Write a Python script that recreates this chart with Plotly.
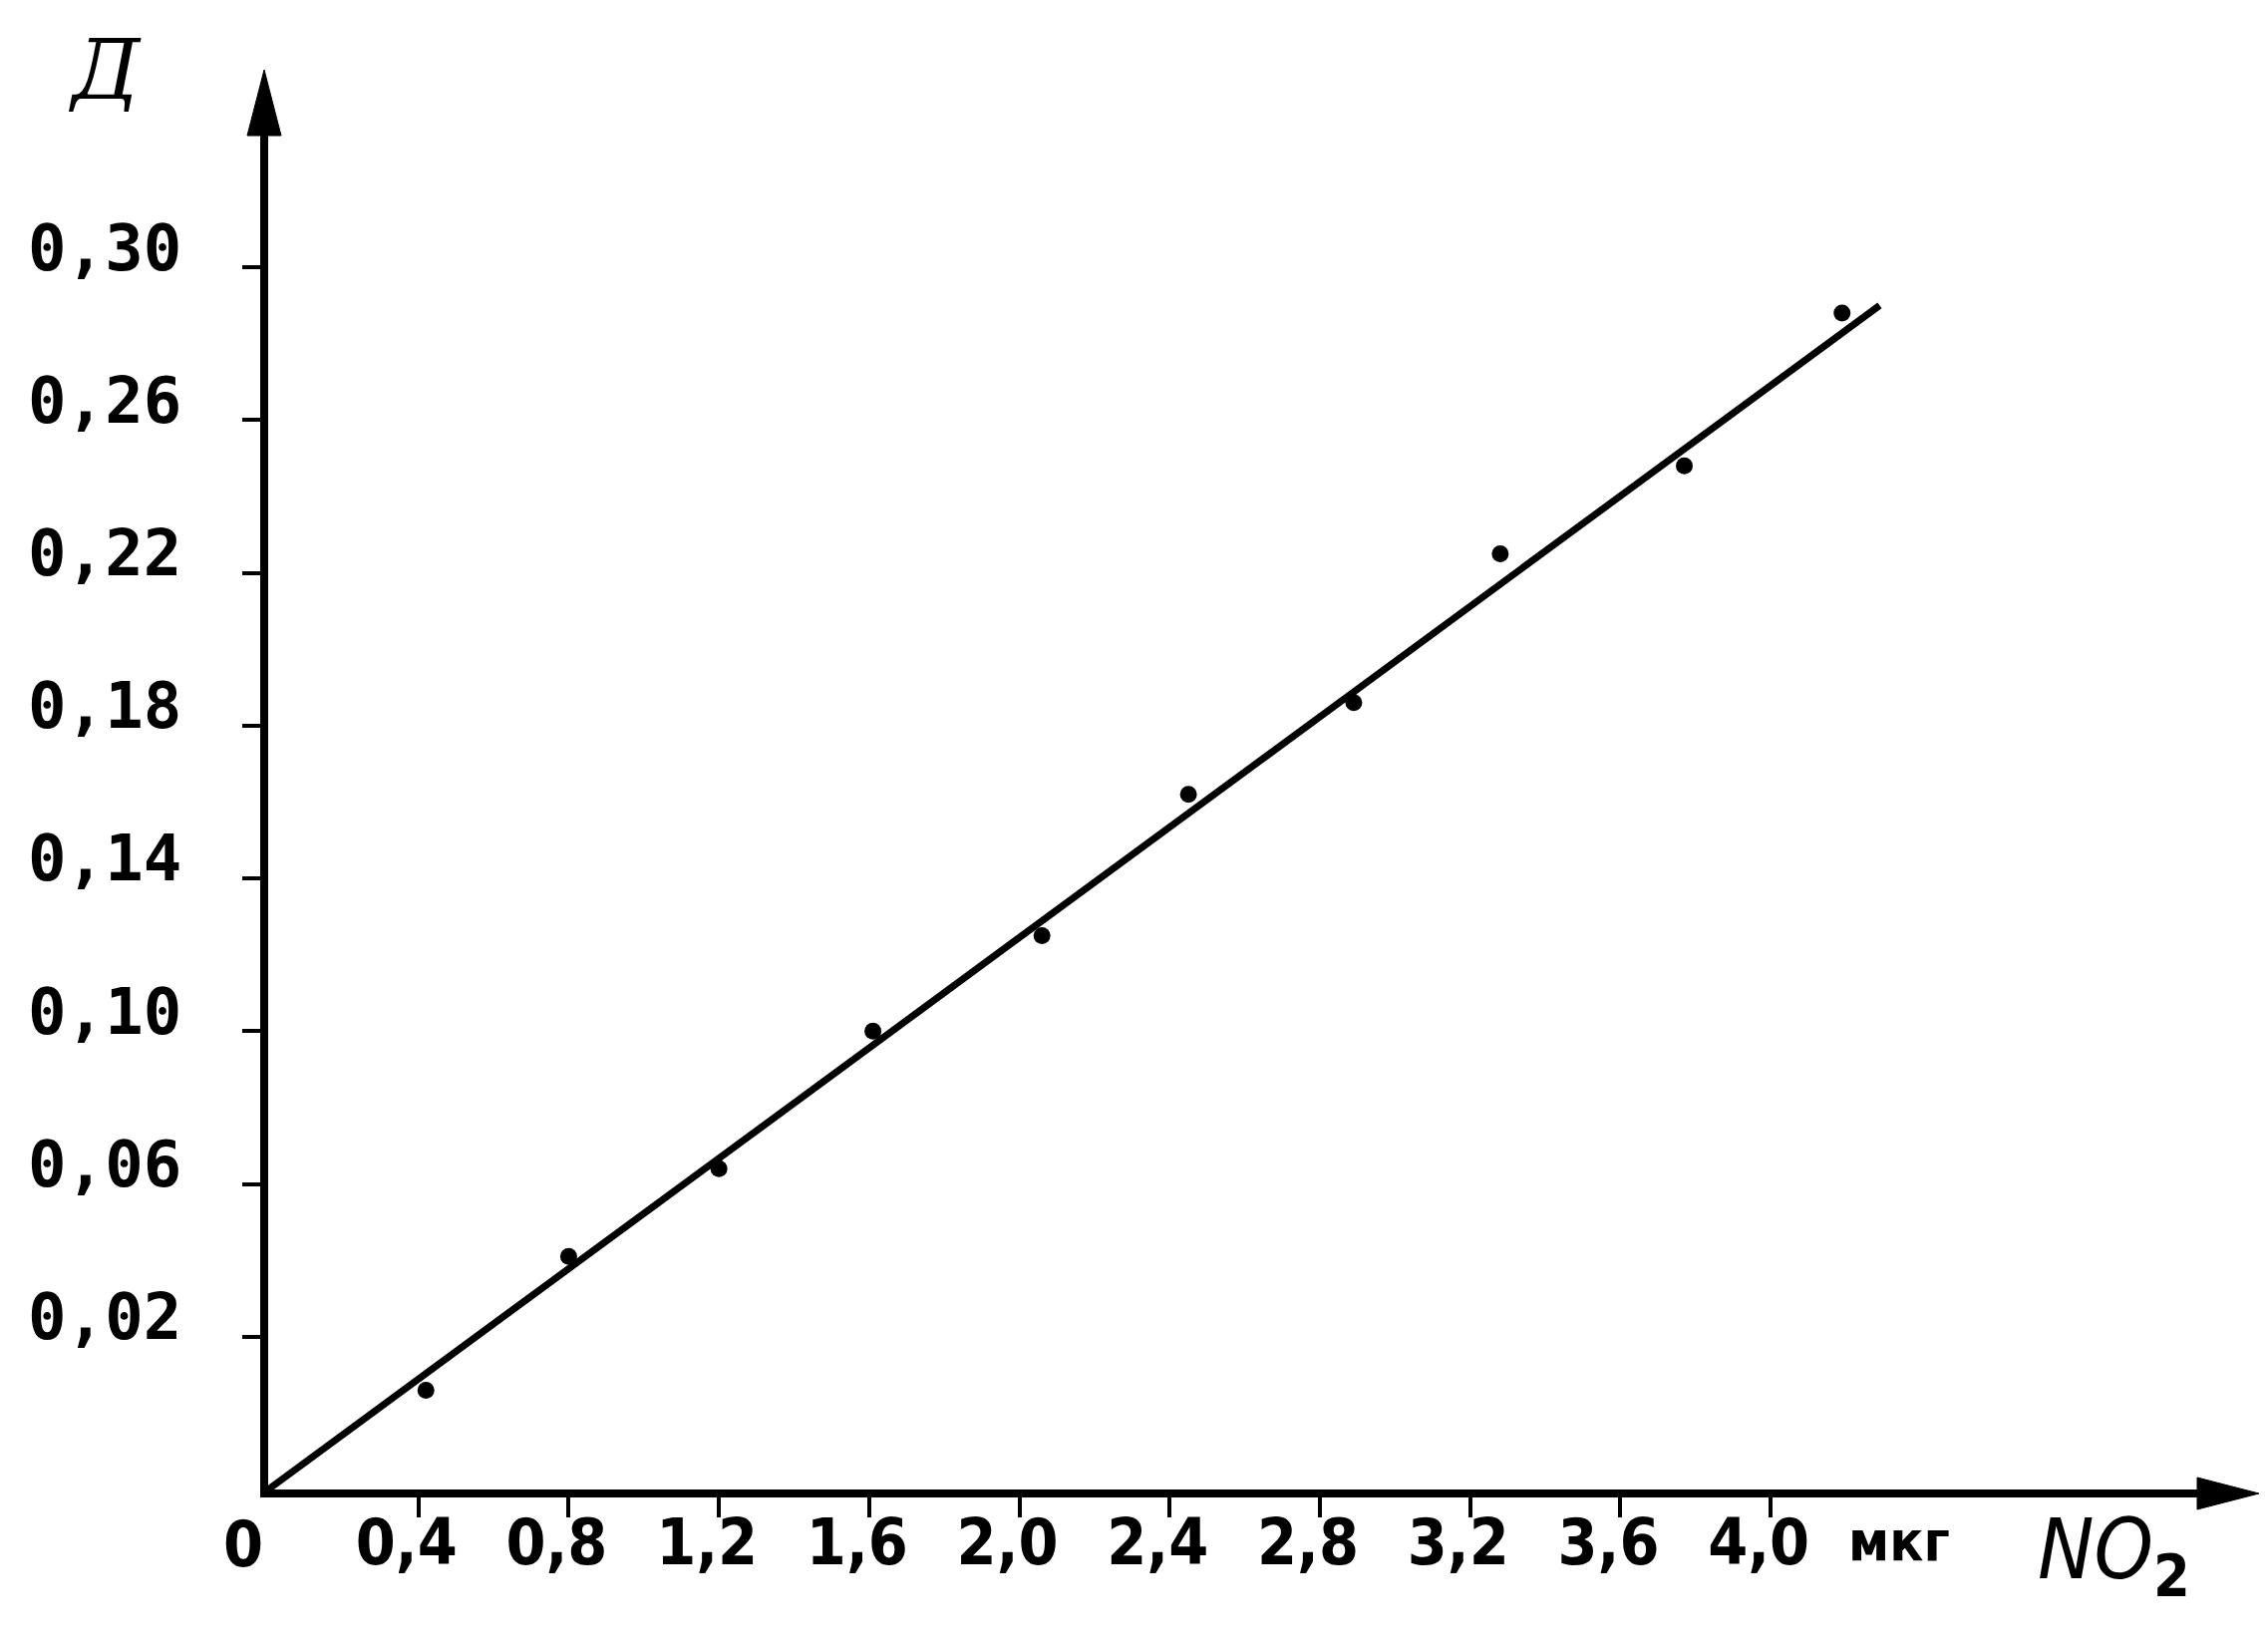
import plotly.graph_objects as go

# --- data ---
x_ticks = [0.4, 0.8, 1.2, 1.6, 2.0, 2.4, 2.8, 3.2, 3.6, 4.0]
x_labels = ["0,4", "0,8", "1,2", "1,6", "2,0", "2,4", "2,8", "3,2", "3,6", "4,0"]
y_ticks = [0.02, 0.06, 0.10, 0.14, 0.18, 0.22, 0.26, 0.30]
y_labels = ["0,02", "0,06", "0,10", "0,14", "0,18", "0,22", "0,26", "0,30"]

no2_ug = [0.42, 0.80, 1.20, 1.61, 2.06, 2.45, 2.89, 3.28, 3.77, 4.19]
absorb_d = [0.006, 0.041, 0.064, 0.100, 0.125, 0.162, 0.186, 0.225, 0.248, 0.288]

fit_x = [0.0, 4.29]
fit_y = [-0.02, 0.290]

X_RANGE = [0, 5.239]
Y_RANGE = [-0.02, 0.3431]

INK = "#000000"
NARROW = "Liberation Sans Narrow, DejaVu Sans Condensed, Liberation Sans, sans-serif"
MONO = "DejaVu Sans Mono, Liberation Mono, monospace"

W, H = 2275, 1654
ML, MR, MT, MB = 261, 40, 95, 168
PW, PH = W - ML - MR, H - MT - MB


def px(x_pix):
    return (x_pix - ML) / PW


def py(y_pix):
    return (H - MB - y_pix) / PH


fig = go.Figure()

fig.add_trace(go.Scatter(
    x=fit_x, y=fit_y, mode="lines",
    line=dict(color=INK, width=7),
    hoverinfo="skip", showlegend=False,
))
fig.add_trace(go.Scatter(
    x=no2_ug, y=absorb_d, mode="markers",
    marker=dict(color=INK, size=17),
    showlegend=False,
))

AX_X = ML - 4        # y-axis line centre (pixels)
AX_Y = H - MB + 4    # x-axis line centre (pixels)

# axis arrowheads (decoration, in paper coordinates)
fig.add_shape(type="path", xref="paper", yref="paper",
              path=f"M {px(AX_X)},{py(62)} L {px(AX_X-17)},{py(128)} L {px(AX_X+17)},{py(128)} Z",
              fillcolor=INK, line=dict(color=INK, width=1))
fig.add_shape(type="path", xref="paper", yref="paper",
              path=f"M {px(2258)},{py(AX_Y)} L {px(2196)},{py(AX_Y-16)} L {px(2196)},{py(AX_Y+16)} Z",
              fillcolor=INK, line=dict(color=INK, width=1))

# axis names and origin label
ann = dict(xref="paper", yref="paper", showarrow=False, xanchor="center", yanchor="middle")
fig.add_annotation(x=px(97), y=py(62), text="<i>Д</i>",
                   font=dict(family="DejaVu Serif, Liberation Serif, serif", size=84, color=INK), **ann)
fig.add_annotation(x=px(236), y=py(1541), text="0",
                   font=dict(family=NARROW, size=64, color=INK, weight="bold"), **ann)
fig.add_annotation(x=px(1897), y=py(1537), text="мкг",
                   font=dict(family=NARROW, size=56, color=INK, weight="bold"), **ann)
fig.add_annotation(x=px(2112), y=py(1552), text="<i>NO</i><sub><b>2</b></sub>",
                   font=dict(family=NARROW, size=84, color=INK), **ann)

fig.update_layout(
    width=W, height=H,
    margin=dict(l=ML, r=MR, t=MT, b=MB),
    paper_bgcolor="white", plot_bgcolor="white",
    showlegend=False,
    xaxis=dict(
        range=X_RANGE, showgrid=False, zeroline=False,
        showline=True, linecolor=INK, linewidth=8,
        tickmode="array", tickvals=x_ticks, ticktext=x_labels,
        ticks="outside", ticklen=20, tickwidth=4, tickcolor=INK,
        tickfont=dict(family=NARROW, size=64, color=INK, weight="bold"),
        ticklabelstandoff=-30, ticklabelshift=-12,
    ),
    yaxis=dict(
        range=Y_RANGE, showgrid=False, zeroline=False,
        showline=True, linecolor=INK, linewidth=8,
        tickmode="array", tickvals=y_ticks, ticktext=y_labels,
        ticks="outside", ticklen=18, tickwidth=4, tickcolor=INK,
        tickfont=dict(family=MONO, size=64, color=INK, weight="bold"),
        ticklabelstandoff=48, ticklabelshift=-20,
    ),
)

fig.write_html("out.html")
